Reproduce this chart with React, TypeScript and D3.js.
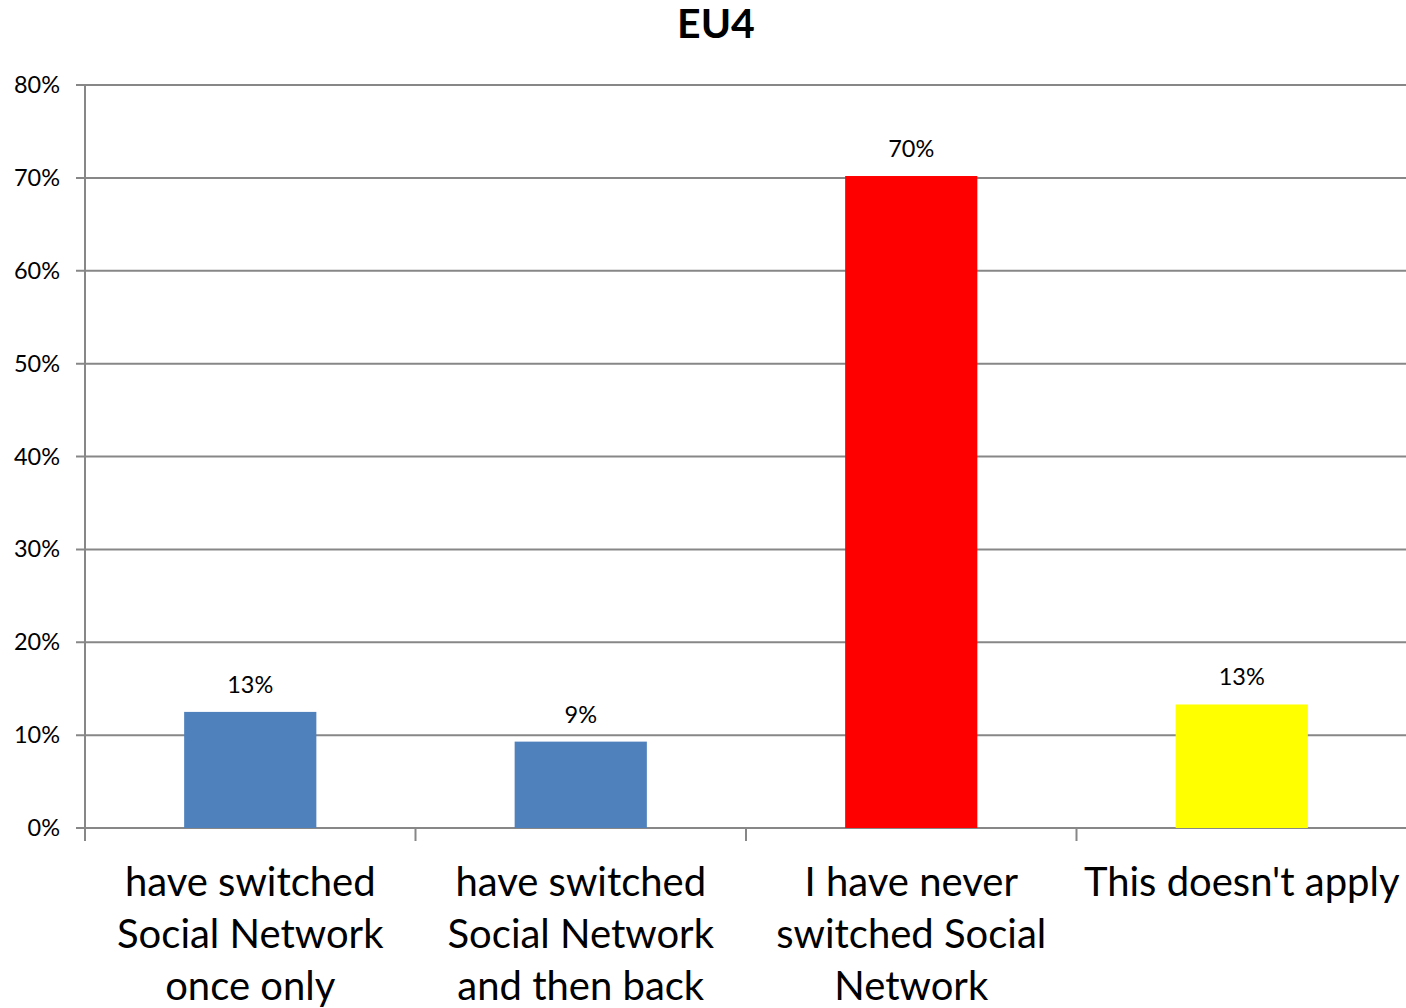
import React from "react";
import * as d3 from "d3";

const title = "EU4";
const categories = [
  ["have switched", "Social Network", "once only"],
  ["have switched", "Social Network", "and then back"],
  ["I have never", "switched Social", "Network"],
  ["This doesn't apply"],
];
const values = [12.5, 9.3, 70.2, 13.3];
const valueLabels = ["13%", "9%", "70%", "13%"];
const barColors = ["#4F81BD", "#4F81BD", "#FF0000", "#FFFF00"];
const yTicks = [0, 10, 20, 30, 40, 50, 60, 70, 80];

const W = 1406;
const H = 1008;
const left = 85;
const right = 1407;
const top = 85;
const bottom = 828;
const FONT = "Lato, 'Open Sans', sans-serif";

export default function App() {
  const x = d3
    .scaleBand<number>()
    .domain(d3.range(values.length))
    .range([left, right])
    .paddingInner(0.6)
    .paddingOuter(0.3);
  const y = d3.scaleLinear().domain([0, 80]).range([bottom, top]);
  const step = x.step();
  const gridColor = "#878787";

  return (
    <svg
      width={W}
      height={H}
      style={{ position: "absolute", left: 0, top: 0, background: "#fff" }}
    >
      <rect x={0} y={0} width={W} height={H} fill="#fff" />
      <text
        x={716}
        y={38}
        textAnchor="middle"
        fontFamily={FONT}
        fontWeight="bold"
        fontSize={41}
        fill="#000"
      >
        {title}
      </text>
      {yTicks.map((t) => (
        <g key={t}>
          <line
            x1={76}
            x2={right}
            y1={y(t)}
            y2={y(t)}
            stroke={gridColor}
            strokeWidth={2}
          />
          <text
            x={60}
            y={y(t) + 8}
            textAnchor="end"
            fontFamily={FONT}
            fontSize={23.5}
            fill="#000"
          >
            {t}%
          </text>
        </g>
      ))}
      <line x1={left} x2={left} y1={top} y2={841} stroke={gridColor} strokeWidth={2} />
      {d3.range(values.length + 1).map((i) => (
        <line
          key={i}
          x1={left + i * step}
          x2={left + i * step}
          y1={bottom}
          y2={841}
          stroke={gridColor}
          strokeWidth={2}
        />
      ))}
      {values.map((v, i) => (
        <g key={i}>
          <rect
            x={x(i)}
            y={y(v)}
            width={x.bandwidth()}
            height={y(0) - y(v)}
            fill={barColors[i]}
          />
          <text
            x={(x(i) as number) + x.bandwidth() / 2}
            y={y(v) - 19}
            textAnchor="middle"
            fontFamily={FONT}
            fontSize={23.5}
            fill="#000"
          >
            {valueLabels[i]}
          </text>
        </g>
      ))}
      {categories.map((lines, i) =>
        lines.map((ln, j) => (
          <text
            key={i + "-" + j}
            x={(x(i) as number) + x.bandwidth() / 2}
            y={896 + j * 52}
            textAnchor="middle"
            fontFamily={FONT}
            fontSize={40}
            fill="#000"
          >
            {ln}
          </text>
        ))
      )}
    </svg>
  );
}
